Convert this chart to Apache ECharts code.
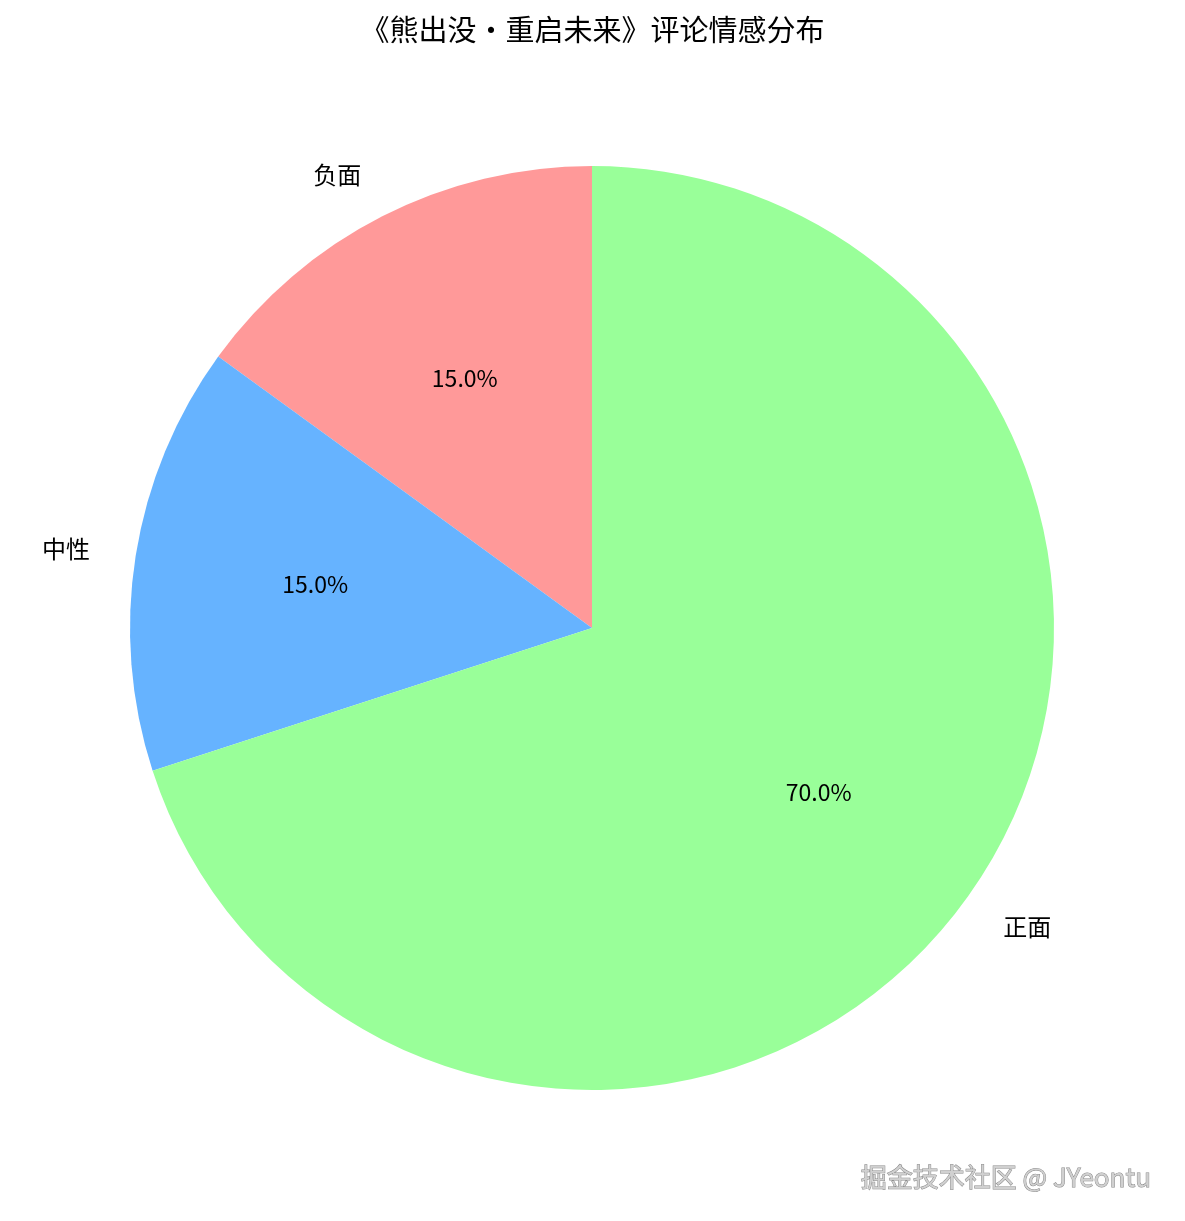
<!DOCTYPE html>
<html>
<head>
<meta charset="utf-8">
<script src="https://cdn.jsdelivr.net/npm/echarts@6/dist/echarts.min.js"></script>
<style>
  html, body { margin: 0; padding: 0; background: #fff; }
  #sentiment-pie { width: 1185px; height: 1221px; }
</style>
</head>
<body>
<div id="sentiment-pie"></div>
<script>
// Sentiment data (counter-clockwise from 12 o'clock)
const categories = ["负面", "中性", "正面"];
const shares = [15, 15, 70];
const colors = ["#ff9999", "#66b3ff", "#99ff99"];

const fontFamily = '"Noto Sans CJK SC", "Noto Sans", sans-serif';
const center = [592, 628];
const radius = 462;

const pieData = categories.map((name, i) => ({
  name: name,
  value: shares[i],
  itemStyle: { color: colors[i] },
}));

const chart = echarts.init(document.getElementById("sentiment-pie"));

const option = {
  animation: false,
  backgroundColor: "#fff",
  title: [
    {
      text: "《熊出没・重启未来》评论情感分布",
      left: "center",
      top: 10,
      textStyle: {
        fontFamily: fontFamily,
        fontSize: 29,
        fontWeight: "normal",
        color: "#000",
      },
    },
    {
      text: "掘金技术社区 @ JYeontu",
      right: 28,
      bottom: 25,
      textStyle: {
        fontFamily: fontFamily,
        fontSize: 26,
        fontWeight: "normal",
        color: "#d0d0d0",
        textBorderColor: "#8a8a8a",
        textBorderWidth: 1,
      },
    },
  ],
  series: [
    // Wedges and category names just outside the rim
    {
      type: "pie",
      center: center,
      radius: radius,
      startAngle: 90,
      clockwise: false,
      avoidLabelOverlap: false,
      silent: true,
      data: pieData,
      label: {
        show: true,
        position: "outside",
        formatter: "{b}",
        fontFamily: fontFamily,
        fontSize: 24,
        color: "#000",
        distanceToLabelLine: 0,
      },
      labelLine: { show: false, length: radius * 0.1, length2: 0 },
    },
    // Invisible copy used only to place percentages at 0.6 r
    {
      type: "pie",
      center: center,
      radius: radius * 1.2,
      startAngle: 90,
      clockwise: false,
      silent: true,
      data: categories.map((name, i) => ({ name: name, value: shares[i] })),
      itemStyle: { color: "transparent" },
      label: {
        show: true,
        position: "inside",
        formatter: (p) => p.value.toFixed(1) + "%",
        fontFamily: fontFamily,
        fontSize: 23,
        color: "#000",
      },
      labelLine: { show: false },
    },
  ],
};

chart.setOption(option);
window.addEventListener("resize", () => chart.resize());
</script>
</body>
</html>
